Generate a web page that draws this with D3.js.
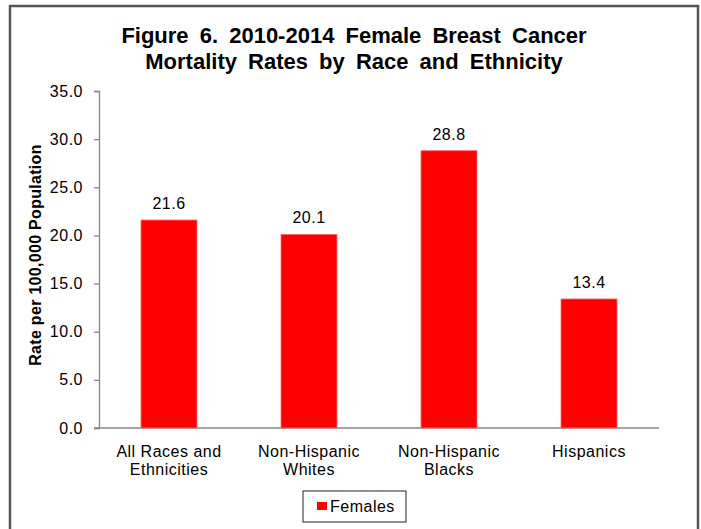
<!DOCTYPE html>
<html>
<head>
<meta charset="utf-8">
<script src="https://cdn.jsdelivr.net/npm/d3@7"></script>
<style>
  body { margin: 0; background: #fff; }
  text { font-family: "Liberation Sans", Arial, sans-serif; fill: #000; }
</style>
</head>
<body>
<div id="container"></div>
<script>
var categories = [["All Races and", "Ethnicities"], ["Non-Hispanic", "Whites"], ["Non-Hispanic", "Blacks"], ["Hispanics"]]
var females = [21.6, 20.1, 28.8, 13.4]
var yTicks = [0, 5, 10, 15, 20, 25, 30, 35]
var titleLines = ["Figure 6. 2010-2014 Female Breast Cancer", "Mortality Rates by Race and Ethnicity"]
var yLabel = "Rate per 100,000 Population"
var seriesName = "Females"

var scene_width = 701, scene_height = 529
var plot = {left: 99, right: 659, top: 91, bottom: 428}

var svg = d3.select('#container').append('svg')
    .attr('width', scene_width)
    .attr('height', scene_height)

// outer frame
svg.append('rect')
    .attr('x', 10).attr('y', 6)
    .attr('width', 688).attr('height', 530)
    .attr('fill', 'none')
    .attr('stroke', '#555')
    .attr('stroke-width', 2.5)

// title
svg.append('g').selectAll('text')
    .data(titleLines)
    .join('text')
    .attr('x', 354)
    .attr('y', (d, i) => 43 + i * 26)
    .attr('text-anchor', 'middle')
    .style('font-size', '22px')
    .style('font-weight', 'bold')
    .style('word-spacing', '5px')
    .text(d => d)

var x = d3.scaleBand()
    .domain(d3.range(categories.length))
    .range([plot.left, plot.right])
    .paddingInner(0.6)
    .paddingOuter(0.3)

var y = d3.scaleLinear()
    .domain([0, 35])
    .range([plot.bottom, plot.top])

// y axis
var yAxis = svg.append('g')
    .attr('transform', 'translate(' + plot.left + ',0)')
    .call(d3.axisLeft(y).tickValues(yTicks).tickSize(5).tickPadding(11).tickFormat(d3.format('.1f')))
yAxis.select('.domain').attr('stroke', '#868686').attr('stroke-width', 1.3)
yAxis.selectAll('.tick line').attr('stroke', '#868686').attr('stroke-width', 1.3)
yAxis.selectAll('.tick text')
    .style('font-family', '"Liberation Sans", Arial, sans-serif')
    .style('font-size', '16px')
    .style('letter-spacing', '0.5px')
    .attr('fill', '#000')

// x axis line
svg.append('line')
    .attr('x1', plot.left - 5).attr('x2', plot.right)
    .attr('y1', y(0)).attr('y2', y(0))
    .attr('stroke', '#868686')
    .attr('stroke-width', 1.5)

// bars
svg.append('g').selectAll('rect')
    .data(females)
    .join('rect')
    .attr('x', (d, i) => x(i))
    .attr('y', d => y(d))
    .attr('width', x.bandwidth())
    .attr('height', d => y(0) - y(d))
    .attr('fill', '#ff0000')
    .attr('stroke', '#ff6a6a')
    .attr('stroke-width', 0.8)

// value labels
svg.append('g').selectAll('text')
    .data(females)
    .join('text')
    .attr('x', (d, i) => x(i) + x.bandwidth() / 2)
    .attr('y', d => y(d) - 11)
    .attr('text-anchor', 'middle')
    .style('font-size', '16px')
    .style('letter-spacing', '0.5px')
    .text(d => d.toFixed(1))

// category labels
categories.forEach(function(lines, i) {
    svg.append('text')
        .attr('x', x(i) + x.bandwidth() / 2)
        .attr('y', 457)
        .attr('text-anchor', 'middle')
        .style('font-size', '16px')
        .style('letter-spacing', '0.5px')
        .selectAll('tspan')
        .data(lines)
        .join('tspan')
        .attr('x', x(i) + x.bandwidth() / 2)
        .attr('dy', (d, j) => j === 0 ? 0 : 18)
        .text(d => d)
})

// y axis title
svg.append('text')
    .attr('transform', 'translate(41,255) rotate(-90)')
    .attr('text-anchor', 'middle')
    .style('font-size', '16px')
    .style('font-weight', 'bold')
    .style('letter-spacing', '0.3px')
    .text(yLabel)

// legend
var legend = svg.append('g')
legend.append('rect')
    .attr('x', 303).attr('y', 491)
    .attr('width', 103).attr('height', 31)
    .attr('fill', '#fff')
    .attr('stroke', '#222')
    .attr('stroke-width', 1)
legend.append('rect')
    .attr('x', 317).attr('y', 502)
    .attr('width', 10).attr('height', 8)
    .attr('fill', '#ff0000')
legend.append('text')
    .attr('x', 330).attr('y', 512)
    .style('font-size', '16px')
    .style('letter-spacing', '0.5px')
    .text(seriesName)
</script>
</body>
</html>
